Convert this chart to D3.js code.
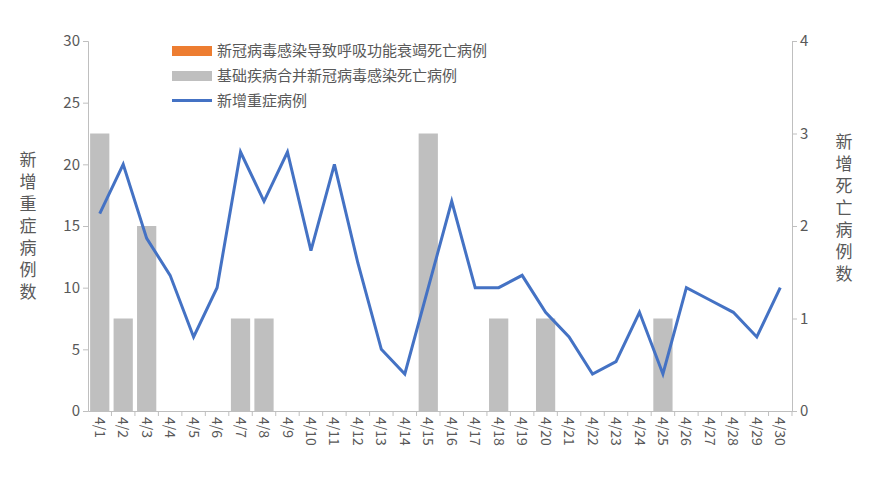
<!DOCTYPE html>
<html><head><meta charset="utf-8">
<script src="https://cdn.jsdelivr.net/npm/d3@7"></script>
<style>body{margin:0;background:#fff}text{font-family:"Noto Sans CJK SC",sans-serif}</style>
</head><body><svg width="877" height="500"></svg>
<script>
const days = d3.range(1, 31).map(d => "4/" + d);
const severe = [16,20,14,11,6,10,21,17,21,13,20,12,5,3,10,17,10,10,11,8,6,3,4,8,3,10,9,8,6,10];
const deathsResp = days.map(() => 0);
const deathsBase = [3,1,2,0,0,0,1,1,0,0,0,0,0,0,3,0,0,1,0,1,0,0,0,0,1,0,0,0,0,0];
const leftTicks = [0,5,10,15,20,25,30];
const rightTicks = [0,1,2,3,4];

const svg = d3.select("svg");
const x = d3.scaleBand().domain(days).range([88, 792]).paddingInner(0.18).paddingOuter(0.09);
const yL = d3.scaleLinear().domain([0, 30]).range([411, 41]);
const yR = d3.scaleLinear().domain([0, 4]).range([411, 41]);
const grey = "#595959";

svg.append("g").selectAll("rect").data(deathsBase).join("rect")
  .attr("x", (d, i) => x(days[i])).attr("width", x.bandwidth())
  .attr("y", d => yR(d)).attr("height", d => yR(0) - yR(d)).attr("fill", "#bfbfbf");

svg.append("path").datum(severe)
  .attr("fill", "none").attr("stroke", "#4472c4").attr("stroke-width", 3)
  .attr("d", d3.line().x((d, i) => x(days[i]) + x.bandwidth() / 2).y(d => yL(d)));

const axL = svg.append("g").attr("transform", "translate(88,0)")
  .call(d3.axisLeft(yL).tickValues(leftTicks).tickSize(5).tickFormat(d3.format("d")));
const axR = svg.append("g").attr("transform", "translate(792,0)")
  .call(d3.axisRight(yR).tickValues(rightTicks).tickSize(5).tickFormat(d3.format("d")));
const axX = svg.append("g").attr("transform", "translate(0,411)")
  .call(d3.axisBottom(x).tickSize(0));
axX.selectAll(".tick line").remove();
axX.selectAll(".tick").append("line").attr("x1", x.step() / 2).attr("x2", x.step() / 2).attr("y2", 5);
axX.selectAll("text").attr("transform", "rotate(90)").attr("text-anchor", "start")
  .attr("x", 6).attr("y", 0).attr("dy", "0.35em");
[axL, axR, axX].forEach(a => {
  a.selectAll("path.domain").attr("stroke", "#bfbfbf");
  a.selectAll(".tick line").attr("stroke", "#bfbfbf");
  a.selectAll("text").attr("fill", grey).attr("font-size", 15);
});
axX.selectAll("text").attr("font-size", 14);

function vtitle(str, cx, top) {
  svg.append("g").selectAll("text").data([...str]).join("text")
    .attr("x", cx).attr("y", (d, i) => top + i * 22).attr("text-anchor", "middle")
    .attr("font-size", 17).attr("fill", grey).text(d => d);
}
vtitle("新增重症病例数", 28, 166);
vtitle("新增死亡病例数", 844, 148);

const legend = [
  {name: "新冠病毒感染导致呼吸功能衰竭死亡病例", color: "#ed7d31", line: false},
  {name: "基础疾病合并新冠病毒感染死亡病例", color: "#bfbfbf", line: false},
  {name: "新增重症病例", color: "#4472c4", line: true}
];
const lg = svg.append("g").selectAll("g").data(legend).join("g")
  .attr("transform", (d, i) => `translate(172,${51 + i * 25})`);
lg.append("rect").attr("x", 0).attr("y", d => d.line ? -2 : -5).attr("width", 40)
  .attr("height", d => d.line ? 3 : 10).attr("fill", d => d.color);
lg.append("text").attr("x", 45).attr("dy", "0.35em").attr("font-size", 15).attr("fill", grey).text(d => d.name);
</script></body></html>
